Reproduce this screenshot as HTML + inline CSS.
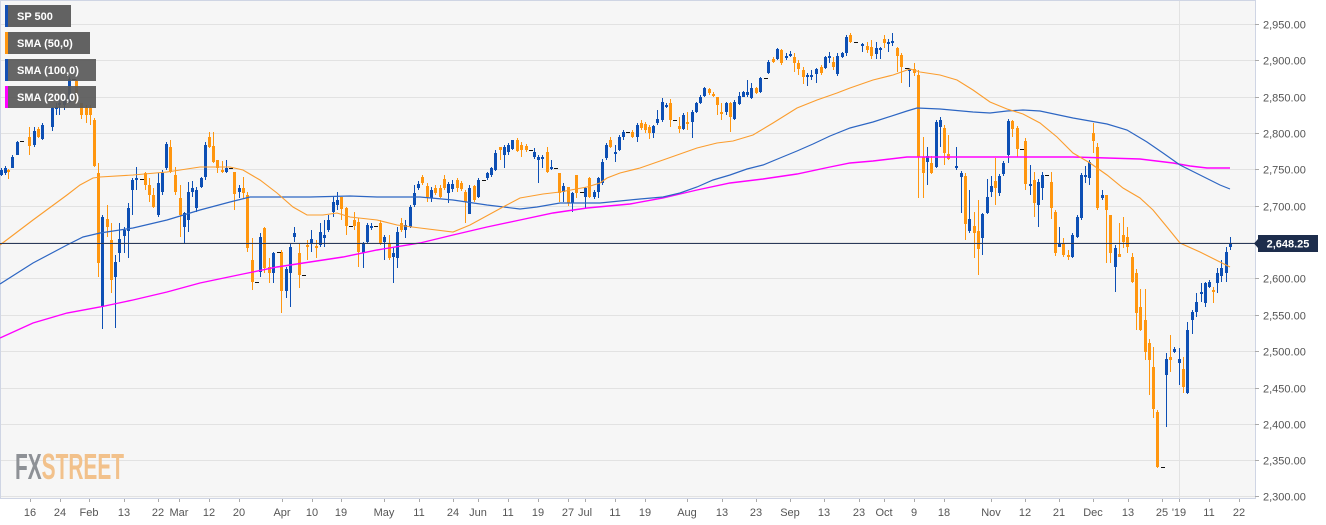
<!DOCTYPE html>
<html><head><meta charset="utf-8"><style>html,body{margin:0;padding:0;background:#fff}svg{display:block}</style></head>
<body>
<svg xmlns="http://www.w3.org/2000/svg" width="1326" height="525" viewBox="0 0 1326 525">
<rect x="0" y="0" width="1326" height="525" fill="#ffffff"/>
<rect x="0" y="0" width="1255" height="498" fill="#f6f6f6"/>
<g stroke="#e2e2e2" stroke-width="1">
<path d="M0 24.5H1255M0 60.5H1255M0 97.5H1255M0 133.5H1255M0 169.5H1255M0 206.5H1255M0 242.5H1255M0 278.5H1255M0 315.5H1255M0 351.5H1255M0 388.5H1255M0 424.5H1255M0 460.5H1255M0 496.5H1255"/>
<path d="M1179.5 0V498"/>
</g>
<g stroke="#cfd5e4" stroke-width="1" fill="none">
<path d="M0.5 0.5H1255.5V498.5H0.5Z"/>
</g>
<g stroke="#aaa" stroke-width="1">
<path d="M1255 24.5h4M1255 60.5h4M1255 97.5h4M1255 133.5h4M1255 169.5h4M1255 206.5h4M1255 242.5h4M1255 278.5h4M1255 315.5h4M1255 351.5h4M1255 388.5h4M1255 424.5h4M1255 460.5h4M1255 496.5h4"/>
<path d="M30.5 499v3M60.5 499v3M89.5 499v3M124.5 499v3M158.5 499v3M179.5 499v3M209.5 499v3M239.5 499v3M282.5 499v3M312.5 499v3M341.5 499v3M384.5 499v3M419.5 499v3M453.5 499v3M478.5 499v3M508.5 499v3M538.5 499v3M568.5 499v3M585.5 499v3M615.5 499v3M645.5 499v3M687.5 499v3M722.5 499v3M756.5 499v3M790.5 499v3M824.5 499v3M859.5 499v3M884.5 499v3M914.5 499v3M944.5 499v3M991.5 499v3M1025.5 499v3M1059.5 499v3M1093.5 499v3M1128.5 499v3M1162.5 499v3M1179.5 499v3M1209.5 499v3M1239.5 499v3"/>
</g>
<text x="15" y="479" font-family="'Liberation Sans Narrow','Liberation Sans',sans-serif" font-weight="bold" font-size="36" textLength="109" lengthAdjust="spacingAndGlyphs"><tspan fill="#8e9196">FX</tspan><tspan fill="#f2c18b">STREET</tspan></text>

<path fill="none" stroke="#0d4fb4" stroke-width="1" d="M1.5 168V176M5.5 166V175M12.5 155V168M17.5 141V155M34.5 127V147M42.5 123V140M52.5 107V131M56.5 103V115M59.5 99V115M64.5 97V110M69.5 77V103M102.5 215V329M115.5 255V328M119.5 223V262M124.5 227V253M128.5 203V258M132.5 178V215M136.5 167V190M158.5 173V217M162.5 170V195M166.5 142V170M184.5 212V243M188.5 182V232M192.5 181V197M196.5 187V212M201.5 177V188M205.5 142V180M226.5 160V173M239.5 185V198M260.5 233V277M273.5 252V283M286.5 267V298M290.5 243V307M294.5 227V242M311.5 230V252M320.5 223V247M324.5 220V247M328.5 215V232M333.5 197V217M337.5 192V210M363.5 242V268M367.5 223V243M371.5 223V230M384.5 235V260M393.5 248V283M397.5 227V268M405.5 220V238M410.5 205V228M414.5 185V207M418.5 181V190M431.5 187V202M448.5 182V203M452.5 180V192M469.5 185V214M478.5 178V198M487.5 172V180M491.5 167V177M495.5 150V171M504.5 145V168M508.5 143V155M512.5 140V150M534.5 148V159M538.5 155V183M542.5 155V168M551.5 160V170M563.5 183V202M572.5 192V212M585.5 187V208M594.5 190V199M598.5 177V198M602.5 159V185M606.5 143V160M615.5 145V162M619.5 135V151M623.5 130V140M637.5 123V142M653.5 125V138M657.5 110V125M662.5 98V122M666.5 103V108M683.5 113V130M692.5 110V138M696.5 102V113M700.5 95V104M704.5 87V97M726.5 102V115M734.5 100V120M739.5 92V105M743.5 91V97M747.5 80V97M751.5 83V99M760.5 77V93M768.5 60V74M777.5 48V60M786.5 53V60M790.5 51V57M807.5 73V86M811.5 70V80M816.5 68V83M825.5 56V69M829.5 52V63M837.5 53V76M842.5 52V58M846.5 35V56M862.5 43V52M876.5 42V59M880.5 47V59M888.5 39V52M892.5 33V46M909.5 68V87M927.5 147V185M936.5 120V168M940.5 117V147M956.5 147V170M961.5 171V213M969.5 190V233M982.5 213V255M987.5 179V214M991.5 176V197M999.5 174V196M1003.5 161V176M1008.5 119V163M1030.5 165V195M1038.5 179V227M1042.5 172V200M1059.5 227V247M1072.5 233V258M1077.5 215V238M1081.5 173V220M1085.5 166V183M1089.5 160V185M1102.5 190V200M1115.5 245V292M1166.5 353V427M1174.5 347V353M1179.5 348V385M1187.5 322V394M1192.5 310V334M1196.5 293V317M1201.5 283V302M1205.5 282V307M1209.5 280V288M1217.5 268V293M1221.5 260V282M1226.5 247V282M1230.5 237V250"/>
<path fill="#0d4fb4" d="M0 170h3v5h-3zM4 168h3v5h-3zM11 157h3v11h-3zM16 142h3v13h-3zM33 131h3v14h-3zM41 125h3v14h-3zM51 108h3v19h-3zM55 107h3v2h-3zM58 103h3v2h-3zM63 100h3v5h-3zM68 79h3v23h-3zM101 217h3v90h-3zM114 262h3v15h-3zM118 239h3v14h-3zM123 230h3v6h-3zM127 208h3v23h-3zM131 180h3v10h-3zM135 178h3v2h-3zM157 183h3v32h-3zM161 173h3v19h-3zM165 144h3v24h-3zM183 213h3v14h-3zM187 192h3v28h-3zM191 188h3v4h-3zM195 190h3v18h-3zM200 178h3v9h-3zM204 145h3v32h-3zM225 168h3v4h-3zM238 188h3v4h-3zM259 237h3v35h-3zM272 253h3v20h-3zM285 269h3v22h-3zM289 247h3v26h-3zM293 233h3v4h-3zM310 239h3v4h-3zM319 232h3v13h-3zM323 235h3v3h-3zM327 220h3v10h-3zM332 202h3v10h-3zM336 200h3v5h-3zM362 243h3v10h-3zM366 225h3v17h-3zM370 226h3v2h-3zM383 237h3v5h-3zM392 253h3v4h-3zM396 232h3v26h-3zM404 225h3v5h-3zM409 207h3v20h-3zM413 193h3v12h-3zM417 184h3v4h-3zM430 190h3v8h-3zM447 184h3v9h-3zM451 184h3v5h-3zM468 188h3v26h-3zM477 180h3v17h-3zM486 173h3v5h-3zM490 168h3v7h-3zM494 153h3v17h-3zM503 147h3v8h-3zM507 145h3v7h-3zM511 140h3v9h-3zM533 152h3v5h-3zM537 157h3v3h-3zM541 157h3v2h-3zM550 167h3v2h-3zM562 186h3v6h-3zM571 193h3v10h-3zM584 188h3v9h-3zM593 192h3v5h-3zM597 178h3v14h-3zM601 162h3v21h-3zM605 145h3v13h-3zM614 152h3v2h-3zM618 137h3v13h-3zM622 132h3v5h-3zM636 125h3v12h-3zM652 126h3v7h-3zM656 119h3v4h-3zM661 102h3v18h-3zM665 105h3v2h-3zM682 115h3v14h-3zM691 112h3v10h-3zM695 103h3v9h-3zM699 97h3v6h-3zM703 88h3v8h-3zM725 103h3v9h-3zM733 102h3v17h-3zM738 96h3v8h-3zM742 92h3v5h-3zM746 92h3v3h-3zM750 88h3v10h-3zM759 78h3v14h-3zM767 62h3v11h-3zM776 49h3v10h-3zM785 56h3v2h-3zM789 54h3v2h-3zM806 75h3v2h-3zM810 75h3v2h-3zM815 69h3v5h-3zM824 57h3v11h-3zM828 56h3v2h-3zM836 56h3v18h-3zM841 53h3v4h-3zM845 37h3v16h-3zM861 44h3v2h-3zM875 48h3v6h-3zM879 48h3v2h-3zM887 42h3v2h-3zM891 41h3v2h-3zM908 69h3v2h-3zM926 156h3v6h-3zM935 122h3v45h-3zM939 120h3v7h-3zM955 166h3v2h-3zM960 173h3v4h-3zM968 219h3v12h-3zM981 214h3v24h-3zM986 197h3v16h-3zM990 186h3v6h-3zM998 176h3v17h-3zM1002 163h3v11h-3zM1007 121h3v34h-3zM1029 184h3v2h-3zM1037 182h3v23h-3zM1041 175h3v13h-3zM1058 243h3v4h-3zM1071 235h3v22h-3zM1076 217h3v20h-3zM1080 175h3v43h-3zM1084 175h3v2h-3zM1088 162h3v16h-3zM1101 195h3v3h-3zM1114 248h3v19h-3zM1165 359h3v16h-3zM1173 349h3v3h-3zM1178 359h3v4h-3zM1186 330h3v63h-3zM1191 312h3v8h-3zM1195 302h3v10h-3zM1200 292h3v2h-3zM1204 283h3v20h-3zM1208 282h3v5h-3zM1216 273h3v10h-3zM1220 268h3v8h-3zM1225 252h3v21h-3zM1229 243h3v4h-3z"/>

<path fill="none" stroke="#ff960f" stroke-width="1" d="M8.5 169V179M29.5 127V155M38.5 127V138M76.5 79V104M81.5 103V119M86.5 105V123M90.5 105V125M94.5 118V167M98.5 163V277M107.5 205V237M111.5 223V293M145.5 172V190M149.5 178V202M153.5 188V208M170.5 140V173M175.5 167V195M180.5 185V237M209.5 132V148M213.5 132V163M217.5 160V173M222.5 161V173M234.5 172V210M243.5 177V198M247.5 192V252M252.5 238V290M264.5 227V273M269.5 258V283M281.5 250V313M299.5 243V288M307.5 240V260M316.5 240V258M341.5 197V220M346.5 207V235M354.5 212V230M358.5 218V267M380.5 220V245M389.5 235V260M401.5 218V232M422.5 175V185M427.5 183V202M435.5 185V195M440.5 185V198M444.5 175V190M457.5 178V192M461.5 181V191M465.5 190V223M474.5 185V202M500.5 147V160M517.5 138V152M521.5 142V157M526.5 144V152M547.5 147V173M559.5 173V202M568.5 187V206M576.5 175V198M589.5 177V198M610.5 137V148M632.5 130V138M641.5 120V130M645.5 122V133M649.5 125V139M670.5 99V127M679.5 117V133M687.5 112V130M709.5 88V95M713.5 92V97M717.5 97V115M721.5 103V120M730.5 102V132M756.5 87V94M773.5 57V63M781.5 49V65M794.5 53V72M798.5 60V75M803.5 67V84M821.5 65V75M833.5 57V70M850.5 33V43M867.5 42V53M871.5 40V59M884.5 35V48M897.5 47V72M901.5 53V83M914.5 63V76M918.5 70V198M923.5 137V198M931.5 156V174M944.5 125V165M948.5 135V160M965.5 173V240M974.5 212V258M978.5 200V275M995.5 158V205M1012.5 120V137M1017.5 126V157M1025.5 138V190M1034.5 172V217M1051.5 172V219M1055.5 210V256M1063.5 238V257M1068.5 250V260M1093.5 123V153M1097.5 143V210M1106.5 195V263M1110.5 215V263M1119.5 223V257M1123.5 217V248M1127.5 227V253M1132.5 253V283M1136.5 269V330M1140.5 289V331M1145.5 289V360M1149.5 339V395M1153.5 347V418M1157.5 410V468M1170.5 335V372M1183.5 357V393M1213.5 287V303"/>
<path fill="#ff960f" d="M7 170h3v2h-3zM28 137h3v9h-3zM37 129h3v8h-3zM75 81h3v22h-3zM80 103h3v12h-3zM85 108h3v7h-3zM89 108h3v7h-3zM93 120h3v46h-3zM97 173h3v90h-3zM106 219h3v8h-3zM110 240h3v40h-3zM144 173h3v12h-3zM148 185h3v10h-3zM152 195h3v12h-3zM169 147h3v25h-3zM174 175h3v17h-3zM179 198h3v17h-3zM208 137h3v10h-3zM212 146h3v16h-3zM216 160h3v8h-3zM221 170h3v2h-3zM233 172h3v22h-3zM242 188h3v5h-3zM246 195h3v53h-3zM251 260h3v22h-3zM263 228h3v40h-3zM268 267h3v6h-3zM280 252h3v39h-3zM298 253h3v22h-3zM306 245h3v2h-3zM315 246h3v2h-3zM340 197h3v12h-3zM345 208h3v18h-3zM353 220h3v6h-3zM357 222h3v30h-3zM379 223h3v20h-3zM388 243h3v15h-3zM400 223h3v7h-3zM421 177h3v6h-3zM426 186h3v11h-3zM434 188h3v5h-3zM439 188h3v9h-3zM443 179h3v9h-3zM456 180h3v8h-3zM460 183h3v6h-3zM464 192h3v10h-3zM473 186h3v14h-3zM499 147h3v3h-3zM516 140h3v11h-3zM520 145h3v5h-3zM525 146h3v4h-3zM546 152h3v20h-3zM558 173h3v20h-3zM567 187h3v16h-3zM575 175h3v18h-3zM588 178h3v19h-3zM609 140h3v7h-3zM631 132h3v5h-3zM640 123h3v5h-3zM644 124h3v6h-3zM648 127h3v6h-3zM669 103h3v17h-3zM678 126h3v3h-3zM686 122h3v2h-3zM708 89h3v4h-3zM712 94h3v2h-3zM716 97h3v8h-3zM720 112h3v2h-3zM729 103h3v14h-3zM755 88h3v5h-3zM772 59h3v3h-3zM780 50h3v13h-3zM793 57h3v6h-3zM797 63h3v6h-3zM802 70h3v7h-3zM820 67h3v6h-3zM832 62h3v5h-3zM849 35h3v7h-3zM866 46h3v4h-3zM870 47h3v9h-3zM883 39h3v4h-3zM896 48h3v8h-3zM900 55h3v12h-3zM913 69h3v4h-3zM917 75h3v82h-3zM922 157h3v16h-3zM930 163h3v10h-3zM943 128h3v25h-3zM947 154h3v5h-3zM964 176h3v48h-3zM973 226h3v7h-3zM977 231h3v18h-3zM994 181h3v7h-3zM1011 121h3v8h-3zM1016 128h3v21h-3zM1024 141h3v43h-3zM1033 180h3v23h-3zM1050 182h3v26h-3zM1054 212h3v41h-3zM1062 243h3v12h-3zM1067 255h3v2h-3zM1092 133h3v8h-3zM1096 147h3v61h-3zM1105 195h3v15h-3zM1109 215h3v38h-3zM1118 254h3v3h-3zM1122 235h3v7h-3zM1126 237h3v10h-3zM1131 257h3v25h-3zM1135 273h3v40h-3zM1139 307h3v23h-3zM1144 320h3v32h-3zM1148 343h3v17h-3zM1152 367h3v42h-3zM1156 412h3v55h-3zM1169 357h3v3h-3zM1182 369h3v18h-3zM1212 290h3v2h-3z"/>

<path fill="#111" d="M20 141h4v1h-4zM72 79h4v1h-4zM140 179h4v1h-4zM229 168h4v1h-4zM255 282h4v1h-4zM277 252h4v1h-4zM302 275h4v1h-4zM349 226h4v1h-4zM374 226h4v1h-4zM482 180h4v1h-4zM529 150h4v1h-4zM554 168h4v1h-4zM580 192h4v1h-4zM626 132h4v1h-4zM673 120h4v1h-4zM764 78h4v1h-4zM854 42h4v1h-4zM905 68h4v1h-4zM1020 149h4v1h-4zM1045 175h4v1h-4zM1161 467h4v1h-4z"/>

<polyline fill="none" stroke="#ff00ff" stroke-width="1.4" points="0,338 33,323 67,313 100,307 133,300 167,292 200,283 243,274 277,267 310,262 343,257 377,250 420,243 453,235 487,227 520,220 553,213 587,208 630,204 663,198 697,190 730,183 763,179 797,174 830,167 850,163 873,161 907,157 920,157 1040,157 1073,157 1107,158 1140,159 1173,163 1190,166 1207,168 1230,168"/>
<polyline fill="none" stroke="#2d66c3" stroke-width="1.2" points="0,284 33,263 67,245 83,237 100,233 133,228 167,220 200,210 230,202 250,197 277,197 310,197 350,196 377,197 420,197 453,200 487,205 520,209 537,207 560,203 600,203 640,199 663,197 680,193 697,187 713,180 730,175 747,169 763,165 780,158 797,151 813,144 830,136 850,128 873,122 907,111 917,108 940,109 973,112 990,113 1007,111 1023,110 1040,111 1073,118 1107,124 1127,130 1147,142 1163,153 1180,165 1200,175 1220,185 1230,189"/>
<polyline fill="none" stroke="#fb9d2e" stroke-width="1.1" points="0,245 33,220 67,195 80,185 93,178 100,177 133,175 167,172 200,167 230,167 243,170 260,180 277,193 293,207 307,215 323,215 337,213 350,217 377,220 397,225 420,228 453,232 470,225 503,207 520,198 543,194 560,192 587,187 600,183 607,178 620,173 640,168 663,160 697,148 717,143 733,141 753,135 773,123 797,108 817,100 837,93 850,88 873,80 893,75 910,69 920,72 940,75 957,80 973,90 990,102 1007,109 1023,114 1040,123 1057,137 1073,153 1090,163 1107,175 1123,188 1140,198 1153,210 1167,227 1180,243 1200,252 1220,262 1230,267"/>

<path stroke="#2a3a5a" stroke-width="1" d="M0 243.5H1256"/>
<path fill="#1d2d4c" d="M1254 243.5L1258 239V235H1318V252H1258V248Z"/>
<text x="1288" y="247.5" text-anchor="middle" font-family="'Liberation Sans',sans-serif" font-size="11" font-weight="bold" fill="#ffffff">2,648.25</text>

<g font-family="'Liberation Sans',sans-serif" font-size="11" fill="#555">
<text x="1263" y="28.5">2,950.00</text>
<text x="1263" y="64.5">2,900.00</text>
<text x="1263" y="101.5">2,850.00</text>
<text x="1263" y="137.5">2,800.00</text>
<text x="1263" y="173.5">2,750.00</text>
<text x="1263" y="210.5">2,700.00</text>
<text x="1263" y="282.5">2,600.00</text>
<text x="1263" y="319.5">2,550.00</text>
<text x="1263" y="355.5">2,500.00</text>
<text x="1263" y="392.5">2,450.00</text>
<text x="1263" y="428.5">2,400.00</text>
<text x="1263" y="464.5">2,350.00</text>
<text x="1263" y="500.5">2,300.00</text>
</g>
<g font-family="'Liberation Sans',sans-serif" font-size="11" fill="#555" text-anchor="middle">
<text x="30" y="516">16</text><text x="60" y="516">24</text><text x="89" y="516">Feb</text><text x="124" y="516">13</text><text x="158" y="516">22</text><text x="179" y="516">Mar</text><text x="209" y="516">12</text><text x="239" y="516">20</text><text x="282" y="516">Apr</text><text x="312" y="516">10</text><text x="341" y="516">19</text><text x="384" y="516">May</text><text x="419" y="516">11</text><text x="453" y="516">24</text><text x="478" y="516">Jun</text><text x="508" y="516">11</text><text x="538" y="516">19</text><text x="568" y="516">27</text><text x="585" y="516">Jul</text><text x="615" y="516">11</text><text x="645" y="516">19</text><text x="687" y="516">Aug</text><text x="722" y="516">13</text><text x="756" y="516">23</text><text x="790" y="516">Sep</text><text x="824" y="516">13</text><text x="859" y="516">23</text><text x="884" y="516">Oct</text><text x="914" y="516">9</text><text x="944" y="516">18</text><text x="991" y="516">Nov</text><text x="1025" y="516">12</text><text x="1059" y="516">21</text><text x="1093" y="516">Dec</text><text x="1128" y="516">13</text><text x="1162" y="516">25</text><text x="1179" y="516">'19</text><text x="1209" y="516">11</text><text x="1239" y="516">22</text>
</g>

<g font-family="'Liberation Sans',sans-serif" font-size="11" font-weight="bold" fill="#ffffff">
<rect x="5" y="5" width="66" height="22" fill="#5a5a5a" fill-opacity="0.95"/>
<rect x="5" y="5" width="3" height="22" fill="#1450b4"/>
<text x="17" y="20">SP 500</text>
<rect x="5" y="32" width="85" height="22" fill="#5a5a5a" fill-opacity="0.95"/>
<rect x="5" y="32" width="3" height="22" fill="#ff960f"/>
<text x="17" y="47">SMA (50,0)</text>
<rect x="5" y="59" width="91" height="22" fill="#5a5a5a" fill-opacity="0.93"/>
<rect x="5" y="59" width="3" height="22" fill="#1450b4"/>
<text x="17" y="74">SMA (100,0)</text>
<rect x="5" y="86" width="91" height="22" fill="#5a5a5a" fill-opacity="0.93"/>
<rect x="5" y="86" width="3" height="22" fill="#ff00ff"/>
<text x="17" y="101">SMA (200,0)</text>
</g>
</svg>
</body></html>
